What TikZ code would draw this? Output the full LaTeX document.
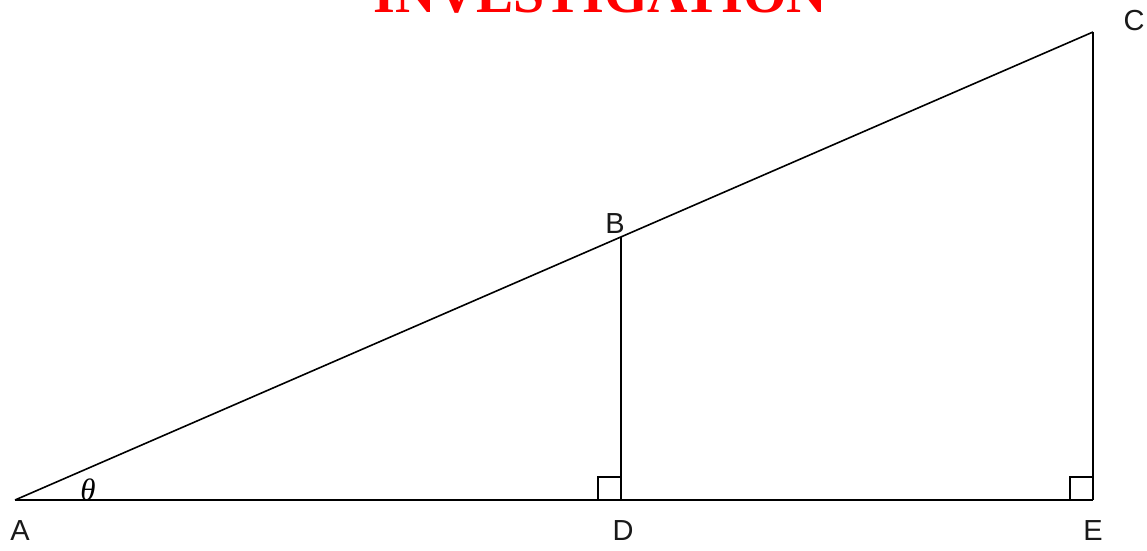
\documentclass[tikz,border=0pt]{standalone}
\usepackage{fontspec}
\setmainfont{Liberation Sans}
\newfontfamily\titlefont{Liberation Serif}
\begin{document}
\begin{tikzpicture}[x=1pt,y=-1pt,
  edge/.style={line width=1.6pt,black},
  lbl/.style={inner sep=0pt,font=\fontsize{29}{33}\selectfont,text=black!90}]
\useasboundingbox (0,0) rectangle (1147,550);
\coordinate (A) at (15,500);
\coordinate (B) at (621,237);
\coordinate (C) at (1093,32);
\coordinate (D) at (621,500);
\coordinate (E) at (1093,500);
% title
\node[anchor=base,inner sep=0pt,text=red,font=\titlefont\bfseries\fontsize{56}{60}\selectfont] (title) at (600.5,12.5) {INVESTIGATION};
% lines
\draw[edge] (A) -- (C);
\draw[edge] (C) -- (E);
\draw[edge] (A) -- (E);
\draw[edge] (B) -- (D);
% right angle marks
\draw[edge] ([xshift=-23pt]D) -- ++(0,-23) -- ++(23,0);
\draw[edge] ([xshift=-23pt]E) -- ++(0,-23) -- ++(23,0);
% labels
\node[lbl] (lA) at (20,531) {A};
\node[lbl] (lB) at (615,224) {B};
\node[lbl] (lC) at (1134,21) {C};
\node[lbl] (lD) at (623,531) {D};
\node[lbl] (lE) at (1093,531) {E};
\node[inner sep=0pt,font=\titlefont\itshape\fontsize{31}{34}\selectfont] (theta) at (88,490) {θ};
\end{tikzpicture}
\end{document}
